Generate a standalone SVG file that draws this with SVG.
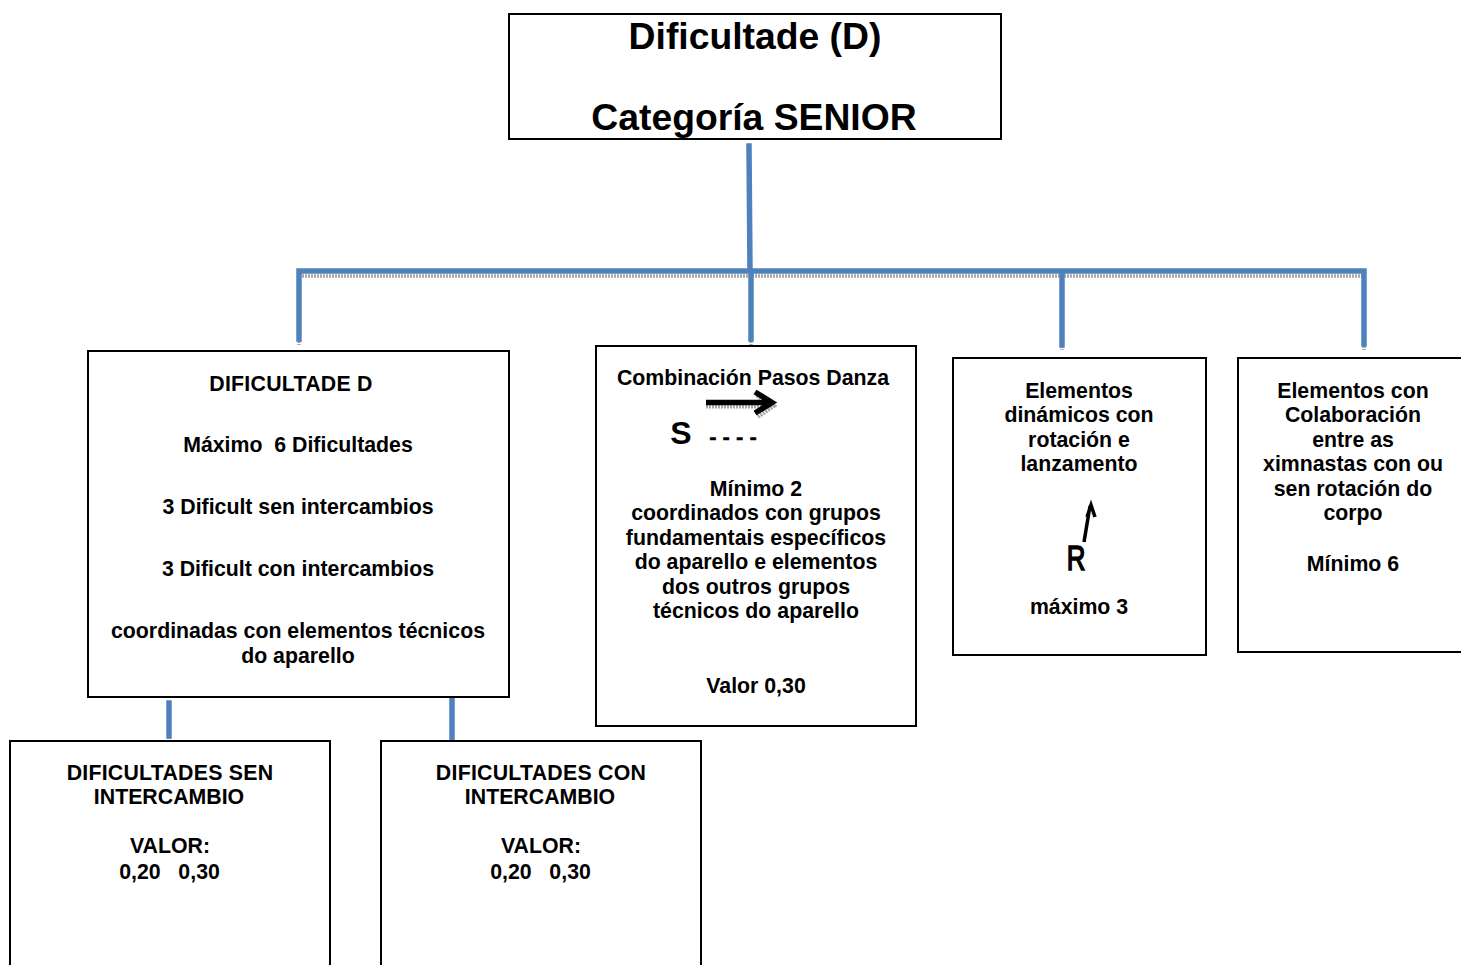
<svg xmlns="http://www.w3.org/2000/svg" width="1461" height="965" viewBox="0 0 1461 965">
<style>
.b{fill:#fff;stroke:#000;stroke-width:2}
.c{fill:none;stroke:#4f81bd;stroke-width:5.5;stroke-linecap:square}
.s{fill:none;stroke:#a8a8a8;stroke-width:3.5;stroke-dasharray:2 1}
text{font-family:"Liberation Sans",Arial,sans-serif;font-weight:bold;font-size:21.3px;text-anchor:middle;fill:#000;white-space:pre}
.t{font-size:37.3px}
.u{letter-spacing:.25px}
</style>
<rect width="1461" height="965" fill="#fff"/>
<g id="connectors">
<path class="s" d="M302 276H1362M299 341V345M751 341V345M1062 346V350M1364 346V350M169 737V741M452 741V745"/>
<path class="c" d="M749 146L750 271M299 339V271H1364V344M751 271V339M1062 271V345M169 703V736M452 700V740"/>
</g>
<g id="n-top"><rect class="b" x="509" y="14" width="492" height="125"/>
<text class="t" x="755" y="49">Dificultade (D)</text><text class="t" x="754" y="130">Categoría SENIOR</text></g>
<g id="n-d"><rect class="b" x="88" y="351" width="421" height="346"/>
<text class="u" x="291" y="391">DIFICULTADE D</text><text x="298" y="452">Máximo  6 Dificultades</text><text x="298" y="514">3 Dificult sen intercambios</text><text x="298" y="576">3 Dificult con intercambios</text><text x="298" y="638">coordinadas con elementos técnicos</text><text x="298" y="663">do aparello</text></g>
<g id="n-pasos"><rect class="b" x="596" y="346" width="320" height="380"/>
<text x="753" y="385">Combinación Pasos Danza</text>
<text x="681" y="444" style="font-size:32px">S</text><text x="733" y="444" style="font-size:22px;stroke:#000;stroke-width:.4">- - - -</text>
<path d="M706 406H770M757 395L773 406L757 417" fill="none" stroke="#a8a8a8" stroke-width="5" stroke-dasharray="2 1"/>
<path d="M706 402.500H772M755 392L772 402.500L755 413" fill="none" stroke="#000" stroke-width="5.500"/>
<text x="756" y="496">Mínimo 2</text><text x="756" y="520">coordinados con grupos</text><text x="756" y="545">fundamentais específicos</text><text x="756" y="569">do aparello e elementos</text><text x="756" y="594">dos outros grupos</text><text x="756" y="618">técnicos do aparello</text><text x="756" y="693">Valor 0,30</text></g>
<g id="n-din"><rect class="b" x="953" y="358" width="253" height="297"/>
<text x="1079" y="398">Elementos</text><text x="1079" y="422">dinámicos con</text><text x="1079" y="447">rotación e</text><text x="1079" y="471">lanzamento</text>
<text transform="translate(1076 570) scale(.72 1)" style="font-size:36px;font-weight:normal;stroke:#000;stroke-width:1.600">R</text>
<path d="M1084 542L1090 506M1087 517L1091 505L1095 517" fill="none" stroke="#000" stroke-width="3.500"/>
<text x="1079" y="614">máximo 3</text></g>
<g id="n-col"><rect class="b" x="1238" y="358" width="240" height="294"/>
<text x="1353" y="398">Elementos con</text><text x="1353" y="422">Colaboración</text><text x="1353" y="447">entre as</text><text x="1353" y="471">ximnastas con ou</text><text x="1353" y="496">sen rotación do</text><text x="1353" y="520">corpo</text><text x="1353" y="571">Mínimo 6</text></g>
<g id="n-sen"><rect class="b" x="10" y="741" width="320" height="240"/>
<text class="u" x="170" y="780">DIFICULTADES SEN</text><text x="169" y="804">INTERCAMBIO</text><text x="170" y="853">VALOR:</text><text x="169.500" y="879">0,20   0,30</text></g>
<g id="n-con"><rect class="b" x="381" y="741" width="320" height="240"/>
<text class="u" x="541" y="780">DIFICULTADES CON</text><text x="540" y="804">INTERCAMBIO</text><text x="541" y="853">VALOR:</text><text x="540.500" y="879">0,20   0,30</text></g>
</svg>
